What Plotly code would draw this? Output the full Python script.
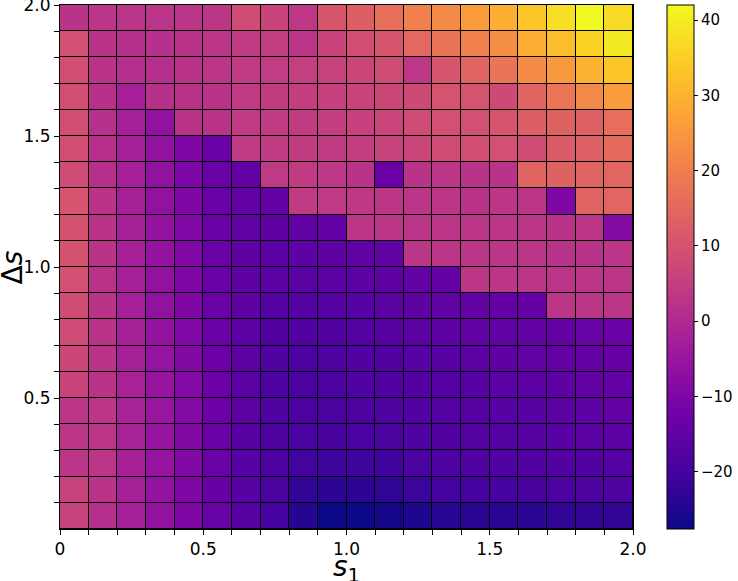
import plotly.graph_objects as go

# cell centres (s1 along x, delta s along y, top row first)
s1 = [0.05, 0.15, 0.25, 0.35, 0.45, 0.55, 0.65, 0.75, 0.85, 0.95,
      1.05, 1.15, 1.25, 1.35, 1.45, 1.55, 1.65, 1.75, 1.85, 1.95]
delta_s = [1.95, 1.85, 1.75, 1.65, 1.55, 1.45, 1.35, 1.25, 1.15, 1.05,
           0.95, 0.85, 0.75, 0.65, 0.55, 0.45, 0.35, 0.25, 0.15, 0.05]

values = [
    [2.4, 2.8, 2.6, 2.6, 3.0, 3.2, 8.4, 6.5, 3.4, 10.7, 12.8, 16.5, 20.4, 22.2, 26.0, 29.5, 33.6, 37.5, 42.0, 37.0],
    [9.3, 2.3, 1.8, 1.8, 2.5, 3.0, 4.2, 4.8, 3.0, 6.5, 9.0, 10.5, 15.0, 17.6, 20.5, 23.2, 29.5, 32.0, 35.7, 39.5],
    [9.0, 2.3, 1.5, 1.5, 2.3, 2.9, 4.2, 4.5, 5.3, 6.2, 7.0, 8.6, 3.3, 10.7, 14.0, 17.6, 22.5, 25.3, 30.2, 33.6],
    [9.0, 2.0, -2.5, 2.0, 2.3, 2.5, 4.2, 4.4, 5.0, 5.8, 6.5, 7.2, 8.0, 10.0, 10.0, 8.0, 14.0, 18.0, 22.0, 26.0],
    [9.0, 1.8, -2.5, -6.2, 2.3, 2.5, 4.2, 4.4, 4.4, 5.0, 5.8, 6.8, 8.3, 9.3, 9.3, 10.7, 12.8, 13.5, 13.4, 16.3],
    [9.0, 1.6, -2.5, -6.2, -10.0, -13.8, 4.2, 4.4, 4.4, 4.4, 5.0, 6.2, 7.0, 8.6, 9.0, 9.3, 8.6, 12.0, 13.0, 15.5],
    [8.3, 1.6, -2.5, -6.2, -10.2, -13.8, -15.0, 4.0, 4.2, 3.7, 2.5, -13.7, 2.5, 2.8, 2.4, 2.4, 14.0, 13.5, 14.0, 14.2],
    [10.4, 2.5, -2.2, -6.3, -9.8, -13.7, -15.0, -14.7, 4.2, 4.0, 3.5, 3.2, 2.8, 3.0, 2.5, 3.0, 3.0, -10.0, 14.0, 14.2],
    [9.8, 2.3, -2.2, -6.0, -9.5, -13.5, -15.2, -15.4, -15.2, -14.8, 3.0, 3.0, 3.0, 3.0, 3.0, 3.0, 3.0, 2.5, 2.8, -8.8],
    [9.8, 2.3, -2.0, -6.0, -9.5, -13.5, -15.6, -16.0, -15.8, -15.6, -15.2, -15.2, 3.0, 3.0, 3.0, 3.0, 3.0, 2.5, 2.5, 2.8],
    [9.3, 2.2, -2.4, -6.2, -9.8, -13.6, -15.4, -16.0, -16.2, -16.0, -15.8, -15.5, -14.8, -14.6, 3.2, 3.0, 3.0, 2.6, 3.0, 3.0],
    [8.6, 2.4, -2.4, -6.2, -9.8, -13.6, -15.6, -17.2, -17.3, -17.0, -16.8, -16.2, -15.6, -15.3, -14.8, -14.6, -14.3, 3.0, 3.0, 3.0],
    [8.3, 2.4, -2.2, -6.0, -9.6, -13.5, -16.0, -18.0, -18.0, -17.8, -17.3, -16.9, -16.2, -15.9, -15.3, -15.1, -14.8, -14.5, -14.2, -13.5],
    [7.2, 2.5, -2.0, -5.8, -9.3, -13.4, -16.1, -18.2, -18.6, -18.4, -18.0, -17.6, -16.8, -16.6, -16.0, -15.7, -15.3, -15.0, -14.6, -14.0],
    [6.5, 2.5, -1.8, -5.5, -9.0, -13.3, -16.4, -18.6, -19.0, -18.7, -18.3, -17.9, -17.6, -17.2, -16.8, -16.4, -16.0, -15.6, -15.0, -14.4],
    [3.0, 3.0, -1.5, -5.2, -9.0, -13.2, -16.2, -18.3, -19.0, -19.0, -18.8, -18.3, -17.6, -17.2, -17.0, -16.8, -16.6, -16.2, -15.8, -14.9],
    [3.0, 3.0, -1.8, -5.5, -9.3, -13.5, -16.5, -18.6, -19.4, -19.5, -19.4, -19.0, -18.2, -17.9, -17.4, -17.2, -16.9, -16.6, -16.3, -16.0],
    [3.0, 3.0, -2.0, -5.7, -9.4, -13.7, -16.8, -19.0, -20.3, -20.8, -21.0, -20.6, -19.2, -18.7, -18.3, -18.0, -17.9, -17.8, -17.5, -17.2],
    [6.3, 2.5, -2.2, -6.0, -9.8, -14.0, -16.8, -19.0, -22.5, -23.2, -23.4, -23.0, -21.3, -20.2, -19.7, -19.9, -19.5, -19.0, -18.9, -18.3],
    [6.3, 1.5, -2.5, -6.3, -9.8, -14.2, -16.8, -19.8, -24.3, -27.6, -27.6, -26.5, -25.5, -24.1, -24.0, -23.8, -23.5, -22.9, -22.6, -22.5],
]

tick_pos = [0.0, 0.1, 0.2, 0.3, 0.4, 0.5, 0.6, 0.7, 0.8, 0.9, 1.0,
            1.1, 1.2, 1.3, 1.4, 1.5, 1.6, 1.7, 1.8, 1.9, 2.0]
x_labels = {0.0: "0", 0.5: "0.5", 1.0: "1.0", 1.5: "1.5", 2.0: "2.0"}
y_labels = {0.5: "0.5", 1.0: "1.0", 1.5: "1.5", 2.0: "2.0"}
cbar_ticks = [-20, -10, 0, 10, 20, 30, 40]

fig = go.Figure()
fig.add_trace(go.Heatmap(
    x=s1,
    y=delta_s,
    z=values,
    colorscale="Plasma",
    zmin=-27.6,
    zmax=42,
    xgap=1,
    ygap=1,
    colorbar=dict(
        x=1.059, xanchor="left", xpad=0,
        y=0.5, yanchor="middle", len=1.0, lenmode="fraction", ypad=0,
        thickness=27,
        outlinewidth=1, outlinecolor="black",
        tickvals=cbar_ticks,
        ticks="outside", ticklen=4, tickcolor="black",
        tickfont=dict(size=15, color="black"),
    ),
))

fig.update_xaxes(
    range=[0, 2],
    tickvals=tick_pos,
    ticktext=[x_labels.get(round(t, 1), "") for t in tick_pos],
    ticks="outside", ticklen=5, tickcolor="black",
    tickfont=dict(size=17),
    showline=True, linecolor="black", linewidth=1, mirror=True,
    showgrid=False, zeroline=False, automargin=False,
    ticklabeloverflow="allow",
)
fig.update_yaxes(
    range=[0, 2],
    tickvals=tick_pos[1:],
    ticktext=[y_labels.get(round(t, 1), "") for t in tick_pos[1:]],
    ticks="outside", ticklen=5, tickcolor="black",
    tickfont=dict(size=17),
    showline=True, linecolor="black", linewidth=1, mirror=True,
    showgrid=False, zeroline=False, automargin=False,
    ticklabeloverflow="allow",
)

# axis titles as annotations so they sit where the reference has them
fig.add_annotation(
    text="<i>s</i><sub>1</sub>", xref="paper", yref="paper",
    x=0.5, y=-0.076, xanchor="center", yanchor="middle",
    showarrow=False, font=dict(size=28),
)
fig.add_annotation(
    text="Δ<i>s</i>", xref="paper", yref="paper",
    x=-0.083, y=0.5, xanchor="center", yanchor="middle",
    textangle=-90, showarrow=False, font=dict(size=28),
)

fig.update_layout(
    width=738,
    height=581,
    margin=dict(l=60, r=101, t=5, b=52),
    plot_bgcolor="black",
    paper_bgcolor="white",
    font=dict(family="DejaVu Sans", color="black"),
)

# drop the browser's default 8px body margin so the figure fills the window
fig.write_html(
    "out.html",
    config={"displayModeBar": False},
    post_script="document.body.style.margin='0px';",
)
